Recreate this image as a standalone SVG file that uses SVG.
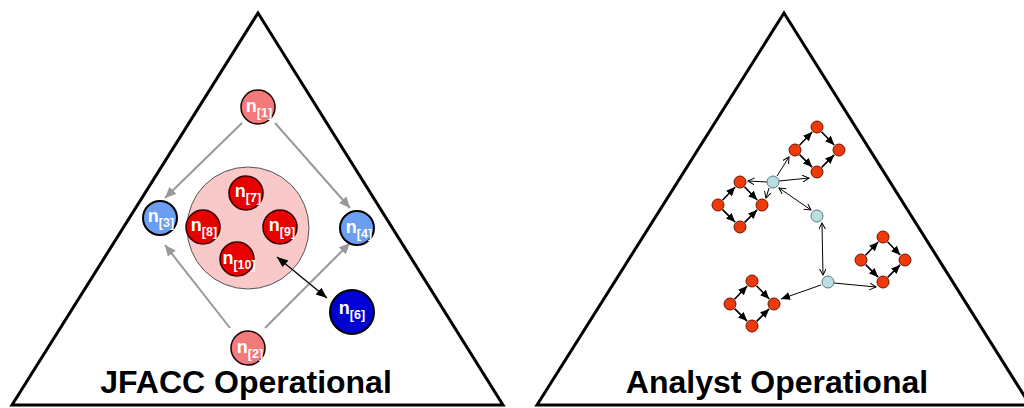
<svg xmlns="http://www.w3.org/2000/svg" width="1024" height="408" viewBox="0 0 1024 408">
<style>
.tri{fill:none;stroke:#000;stroke-width:3;stroke-linejoin:miter}
.title{font-family:"Liberation Sans",Arial,sans-serif;font-weight:bold;font-size:32px;fill:#000;text-anchor:middle}
.lbl{font-family:"Liberation Sans",Arial,sans-serif;font-weight:bold;font-size:18px;fill:#fff;text-anchor:middle}
.sub{font-size:12.5px}
.pink{fill:#f27a7a;stroke:#1a0000;stroke-width:1.5}
.blue{fill:#6b9df0;stroke:#000;stroke-width:2}
.dblue{fill:#0000d2;stroke:#000;stroke-width:2}
.red{fill:#e60000;stroke:#300;stroke-width:1.5}
.group{fill:#f9c8c8;stroke:#555;stroke-width:1}
.garr{stroke:#999;stroke-width:2;fill:none}
.barr{stroke:#000;stroke-width:1.3;fill:none}
.rn{fill:#ee3a0a;stroke:#6a1500;stroke-width:1}
.hub{fill:#b9dde0;stroke:#5b7a80;stroke-width:1}
.iarr{stroke:#000;stroke-width:1.6;fill:none}
.harr{stroke:#000;stroke-width:1;fill:none}
</style>
<defs>
<marker id="mg" markerUnits="userSpaceOnUse" markerWidth="12" markerHeight="10" refX="11" refY="5" orient="auto-start-reverse"><path d="M0,0 L11,5 L0,10 Z" fill="#999"/></marker>
<marker id="mb" markerUnits="userSpaceOnUse" markerWidth="12" markerHeight="10" refX="11" refY="4.5" orient="auto-start-reverse"><path d="M0,0 L11,4.5 L0,9 Z" fill="#000"/></marker>
<marker id="mi" markerUnits="userSpaceOnUse" markerWidth="10" markerHeight="9" refX="9" refY="4" orient="auto"><path d="M0,0 L9,4 L0,8 Z" fill="#000"/></marker>
<marker id="mo" markerUnits="userSpaceOnUse" markerWidth="8" markerHeight="8" refX="6.5" refY="3.5" orient="auto-start-reverse"><path d="M0,0 L6.5,3.5 L0,7" fill="none" stroke="#000" stroke-width="1"/></marker>
<g id="cluster">
<line class="iarr" x1="-17.5" y1="-4.7" x2="-4.8" y2="-18" marker-end="url(#mi)"/>
<line class="iarr" x1="4.5" y1="-18.3" x2="17.2" y2="-5" marker-end="url(#mi)"/>
<line class="iarr" x1="-17.4" y1="4.6" x2="-4.9" y2="17.1" marker-end="url(#mi)"/>
<line class="iarr" x1="4.6" y1="17.4" x2="17.1" y2="4.9" marker-end="url(#mi)"/>
<circle class="rn" cx="0" cy="-23" r="6"/>
<circle class="rn" cx="-22" cy="0" r="6"/>
<circle class="rn" cx="22" cy="0" r="6"/>
<circle class="rn" cx="0" cy="22" r="6"/>
</g>
</defs>

<g id="left-panel">
<polygon class="tri" points="258,13 12,405 503,405"/>
<text class="title" x="246" y="393">JFACC Operational</text>
</g>

<g id="left-connectors">
<line class="garr" x1="242" y1="123" x2="165" y2="198" marker-end="url(#mg)"/>
<line class="garr" x1="275" y1="123" x2="350" y2="208" marker-end="url(#mg)"/>
<line class="garr" x1="230" y1="328" x2="165" y2="245" marker-end="url(#mg)"/>
<line class="garr" x1="265" y1="328" x2="350" y2="243" marker-end="url(#mg)"/>
</g>

<g id="group-7-10">
<circle class="group" cx="248" cy="228" r="61"/>
</g>
<g id="n1"><circle class="pink" cx="258" cy="107" r="17"/><text class="lbl" x="259" y="112">n<tspan class="sub" dy="5">[1]</tspan></text></g>
<g id="n2"><circle class="pink" cx="248" cy="348" r="17"/><text class="lbl" x="250" y="353">n<tspan class="sub" dy="5">[2]</tspan></text></g>
<g id="n3"><circle class="blue" cx="160" cy="218" r="17"/><text class="lbl" x="161" y="222">n<tspan class="sub" dy="5">[3]</tspan></text></g>
<g id="n4"><circle class="blue" cx="357" cy="228" r="17"/><text class="lbl" x="359" y="233">n<tspan class="sub" dy="5">[4]</tspan></text></g>
<g id="n6"><circle class="dblue" cx="352" cy="312" r="22"/><text class="lbl" x="352" y="314">n<tspan class="sub" dy="5">[6]</tspan></text></g>
<g id="n7"><circle class="red" cx="246" cy="193" r="17"/><text class="lbl" x="248" y="197">n<tspan class="sub" dy="5">[7]</tspan></text></g>
<g id="n8"><circle class="red" cx="203" cy="227" r="17"/><text class="lbl" x="204" y="231">n<tspan class="sub" dy="5">[8]</tspan></text></g>
<g id="n9"><circle class="red" cx="280" cy="227" r="17"/><text class="lbl" x="282" y="231">n<tspan class="sub" dy="5">[9]</tspan></text></g>
<g id="n10"><circle class="red" cx="237" cy="259" r="17"/><text class="lbl" x="239" y="264">n<tspan class="sub" dy="5">[10]</tspan></text></g>

<g id="left-black-connector">
<line class="barr" x1="277" y1="257" x2="327" y2="298" marker-start="url(#mb)" marker-end="url(#mb)"/>
</g>

<g id="right-panel">
<polygon class="tri" points="784,13 537,405 1030,405"/>
<text class="title" x="777" y="393">Analyst Operational</text>
</g>

<g id="right-connectors">
<line class="harr" x1="767" y1="182" x2="748" y2="181" marker-end="url(#mo)"/>
<line class="harr" x1="769" y1="188" x2="766" y2="198" marker-end="url(#mo)"/>
<line class="harr" x1="777" y1="176" x2="789" y2="157" marker-end="url(#mo)"/>
<line class="harr" x1="779" y1="181" x2="809" y2="178" marker-end="url(#mo)"/>
<line class="harr" x1="779" y1="188" x2="811" y2="210" marker-start="url(#mo)" marker-end="url(#mo)"/>
<line class="harr" x1="822" y1="223" x2="823" y2="275" marker-start="url(#mo)" marker-end="url(#mo)"/>
<line class="harr" x1="834" y1="283" x2="876" y2="287" marker-end="url(#mo)"/>
<line class="harr" x1="821" y1="285" x2="781" y2="299" marker-end="url(#mi)"/>
</g>

<g id="cluster-a"><use href="#cluster" transform="translate(817,150)"/></g>
<g id="cluster-b"><use href="#cluster" transform="translate(740,205)"/></g>
<g id="cluster-c"><use href="#cluster" transform="translate(883,260)"/></g>
<g id="cluster-d"><use href="#cluster" transform="translate(752,304)"/></g>
<g id="hub1"><circle class="hub" cx="773" cy="182" r="6"/></g>
<g id="hub2"><circle class="hub" cx="817" cy="216" r="6"/></g>
<g id="hub3"><circle class="hub" cx="828" cy="282" r="6"/></g>
</svg>
